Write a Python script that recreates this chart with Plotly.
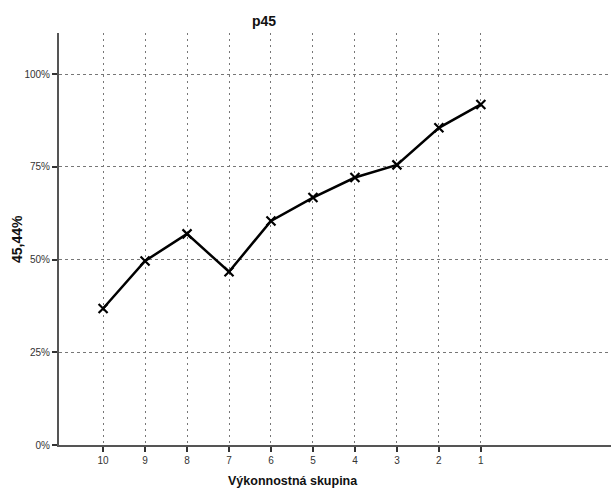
import plotly.graph_objects as go

categories = ["10", "9", "8", "7", "6", "5", "4", "3", "2", "1"]
values = [36.8, 49.6, 56.9, 46.7, 60.4, 66.7, 72.1, 75.5, 85.5, 91.8]
y_ticks = [0, 25, 50, 75, 100]
y_tick_labels = ["0%", "25%", "50%", "75%", "100%"]

W, H = 611, 489
L, R, T, B = 59, 0, 33, 44

fig = go.Figure()
fig.add_trace(go.Scatter(
    x=categories, y=values, mode="lines+markers",
    line=dict(color="black", width=2.5),
    marker=dict(symbol="x-thin-open", size=9, line=dict(color="black", width=2.2), color="black"),
    showlegend=False, hoverinfo="skip",
))

fig.update_layout(
    width=W, height=H,
    margin=dict(l=L, r=R, t=T, b=B, pad=0),
    paper_bgcolor="white", plot_bgcolor="white",
    font=dict(family="Liberation Sans, Arial, sans-serif", color="#333", size=10),
    showlegend=False,
)
fig.update_xaxes(
    type="category", categoryorder="array", categoryarray=categories,
    range=[-1.05, 12.1],
    showline=True, linecolor="#555", linewidth=2,
    ticks="outside", ticklen=5, tickwidth=1.5, tickcolor="#333",
    showgrid=True, gridcolor="#777", gridwidth=1.3, griddash="2px,4px",
    tickfont=dict(size=10, color="#333"),
    zeroline=False, fixedrange=True,
)
fig.update_yaxes(
    range=[0, 111.05],
    tickvals=y_ticks, ticktext=y_tick_labels,
    showline=True, linecolor="#555", linewidth=2,
    ticks="outside", ticklen=5, tickwidth=1.5, tickcolor="#333",
    showgrid=True, gridcolor="#777", gridwidth=1.3, griddash="3px,3px",
    tickfont=dict(size=10, color="#333"),
    zeroline=False, fixedrange=True,
)

fig.add_annotation(text="<b>p45</b>", xref="paper", yref="paper",
                   x=(264 - L) / (W - L - R), y=(H - B - 21) / (H - T - B),
                   xanchor="center", yanchor="middle", showarrow=False,
                   font=dict(size=14, color="#111"))
fig.add_annotation(text="<b>Výkonnostná skupina</b>", xref="paper", yref="paper",
                   x=(293 - L) / (W - L - R), y=(H - B - 481) / (H - T - B),
                   xanchor="center", yanchor="middle", showarrow=False,
                   font=dict(size=12.5, color="#111"))
fig.add_annotation(text="<b>45,44%</b>", xref="paper", yref="paper",
                   x=(17 - L) / (W - L - R), y=(H - B - 239) / (H - T - B),
                   xanchor="center", yanchor="middle", showarrow=False, textangle=-90,
                   font=dict(size=14, color="#111"))

fig.write_html(
    "out.html",
    config={"displayModeBar": False},
    post_script="document.body.style.margin='0';document.body.style.padding='0';document.body.style.overflow='hidden';",
)
